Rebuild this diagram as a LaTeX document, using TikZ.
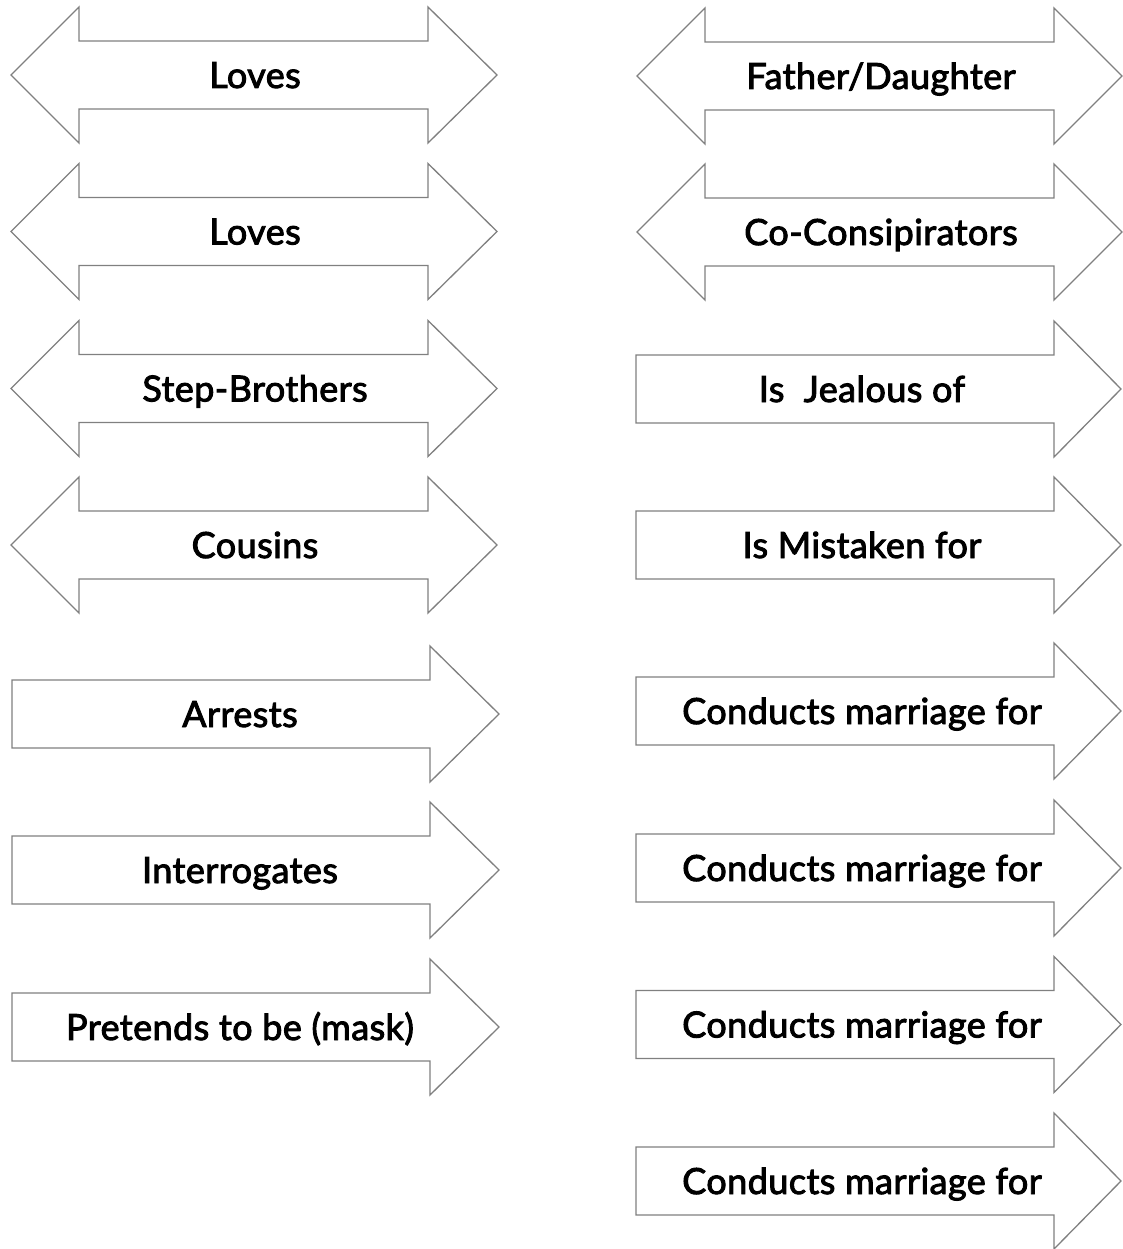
\documentclass[tikz,border=0pt]{standalone}
\usepackage{fontspec}
\setmainfont{Lato}[FakeBold=2.6,LetterSpace=1.2]
\begin{document}
\begin{tikzpicture}[x=1pt,y=-1pt,
  shapeline/.style={draw=black!50,line width=1.3pt,fill=white,line join=miter},
  lbl/.style={font=\fontsize{36}{40}\selectfont,text=black,inner sep=0pt,anchor=base}]
\useasboundingbox (0,0) rectangle (1123,1249);
% double arrows: left column
\foreach \c/\t [count=\i] in {75/Loves,231.5/Loves,388.5/Step-Brothers,545/Cousins}{
  \draw[shapeline] (11,\c) -- (79,\c-68) -- (79,\c-34) -- (428,\c-34) -- (428,\c-68) -- (497,\c)
    -- (428,\c+68) -- (428,\c+34) -- (79,\c+34) -- (79,\c+68) -- cycle;
  \node[lbl] (ld\i) at (255,\c+13) {\t};
}
% double arrows: right column
\foreach \c/\t [count=\i] in {76/Father\slash Daughter,232/Co-Consipirators}{
  \draw[shapeline] (637,\c) -- (705,\c-68) -- (705,\c-34) -- (1054,\c-34) -- (1054,\c-68) -- (1122,\c)
    -- (1054,\c+68) -- (1054,\c+34) -- (705,\c+34) -- (705,\c+68) -- cycle;
  \node[lbl] (rd\i) at (881,\c+13) {\t};
}
% single arrows: left column
\foreach \c/\t [count=\i] in {714/Arrests,870/Interrogates,1027/Pretends to be (mask)}{
  \draw[shapeline] (12,\c-34) -- (430,\c-34) -- (430,\c-68) -- (499,\c)
    -- (430,\c+68) -- (430,\c+34) -- (12,\c+34) -- cycle;
  \node[lbl] (ls\i) at (240,\c+13) {\t};
}
% single arrows: right column
\foreach \c/\t [count=\i] in {389/Is\ \ Jealous of,545/Is Mistaken for,711/Conducts marriage for,868/Conducts marriage for,1024.5/Conducts marriage for,1181/Conducts marriage for}{
  \draw[shapeline] (636,\c-34) -- (1054,\c-34) -- (1054,\c-68) -- (1121,\c)
    -- (1054,\c+68) -- (1054,\c+34) -- (636,\c+34) -- cycle;
  \node[lbl] (rs\i) at (862,\c+13) {\t};
}
\end{tikzpicture}
\end{document}
